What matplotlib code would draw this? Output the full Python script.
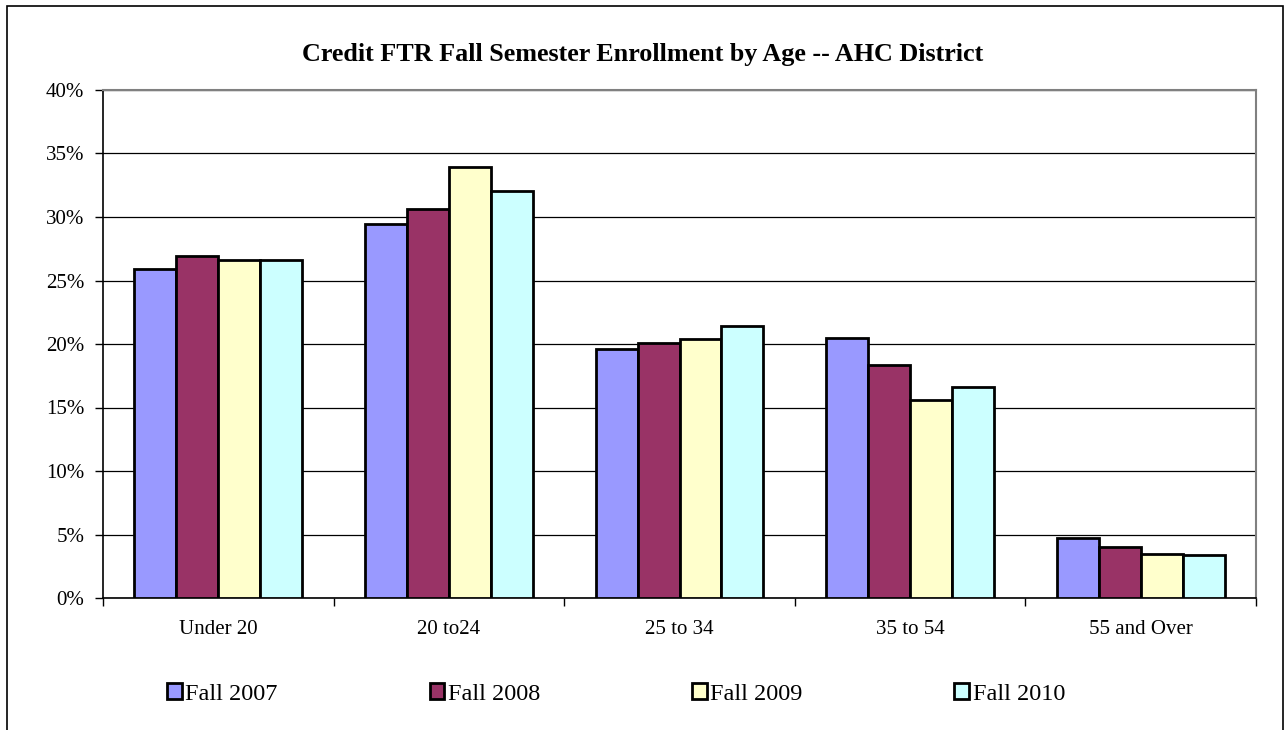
import matplotlib
matplotlib.use("Agg")
import matplotlib.pyplot as plt
import matplotlib.patches as patches
import numpy as np

# ── data ────────────────────────────────────────────────────────────────
CATEGORIES = ["Under 20", "20 to24", "25 to 34", "35 to 54", "55 and Over"]
SERIES = ["Fall 2007", "Fall 2008", "Fall 2009", "Fall 2010"]
FALL_2007 = [25.9, 29.45, 19.6, 20.45, 4.7]
FALL_2008 = [26.9, 30.6, 20.05, 18.35, 4.05]
FALL_2009 = [26.6, 33.9, 20.4, 15.6, 3.5]
FALL_2010 = [26.6, 32.05, 21.4, 16.6, 3.4]
Y_TICKS = [0, 5, 10, 15, 20, 25, 30, 35, 40]

COLORS = ["#9999FF", "#993366", "#FFFFCC", "#CCFFFF"]
TITLE = "Credit FTR Fall Semester Enrollment by Age -- AHC District"

plt.rcParams["font.family"] = ["Liberation Serif", "DejaVu Serif"]

W, H = 1286, 730
fig = plt.figure(figsize=(W / 100, H / 100), dpi=100)
fig.patch.set_facecolor("white")

# outer chart border (runs off the bottom of the image)
fig.patches.append(patches.Rectangle(
    (7 / W, -0.05), (1283 - 7) / W, (H - 6) / H + 0.05,
    transform=fig.transFigure, fill=False, ec="black", lw=1.2, zorder=0))

ax = fig.add_axes([103 / W, 1 - 598 / H, (1256 - 103) / W, (598 - 90) / H])

values = [FALL_2007, FALL_2008, FALL_2009, FALL_2010]
n = len(SERIES)
bw = 1 / (n + 1.5)       # excel gap width 150%
x = np.arange(len(CATEGORIES))
for i, (vals, col, name) in enumerate(zip(values, COLORS, SERIES)):
    offs = (i - (n - 1) / 2) * bw
    ax.bar(x + offs, vals, width=bw, color=col, edgecolor="black",
           linewidth=2.0, label=name, zorder=3)

ax.set_xlim(-0.5, len(CATEGORIES) - 0.5)
ax.set_ylim(0, 40)
ax.set_yticks(Y_TICKS)
ax.set_yticklabels([f"{t}%" for t in Y_TICKS], fontsize=15)
ax.yaxis.grid(True, color="black", linewidth=0.9, zorder=0)
ax.set_axisbelow(True)

# category labels centered, tick marks between categories
ax.set_xticks(x)
ax.set_xticklabels(CATEGORIES, fontsize=15)
ax.tick_params(axis="x", which="major", length=0, pad=16)
ax.set_xticks(np.arange(-0.5, len(CATEGORIES)), minor=True)
ax.tick_params(axis="x", which="minor", length=6, width=1, direction="out")
ax.tick_params(axis="y", length=6, width=1, direction="out", pad=7.5)

for side in ("top", "right"):
    ax.spines[side].set_color("#808080")
    ax.spines[side].set_linewidth(1.5)
for side in ("left", "bottom"):
    ax.spines[side].set_color("black")
    ax.spines[side].set_linewidth(1.2)

fig.text(0.5, 1 - 54 / H, TITLE, ha="center", va="center",
         fontsize=18.8, fontweight="bold")

leg = fig.legend(loc="center", bbox_to_anchor=(0.479, 1 - 694 / H), ncol=4,
                 frameon=False, fontsize=17.5, handlelength=0.6,
                 handleheight=0.6, handletextpad=0.15, columnspacing=6.25)
for h in leg.legend_handles:
    h.set_linewidth(2.0)

fig.savefig("out.png", dpi=100, facecolor="white")
